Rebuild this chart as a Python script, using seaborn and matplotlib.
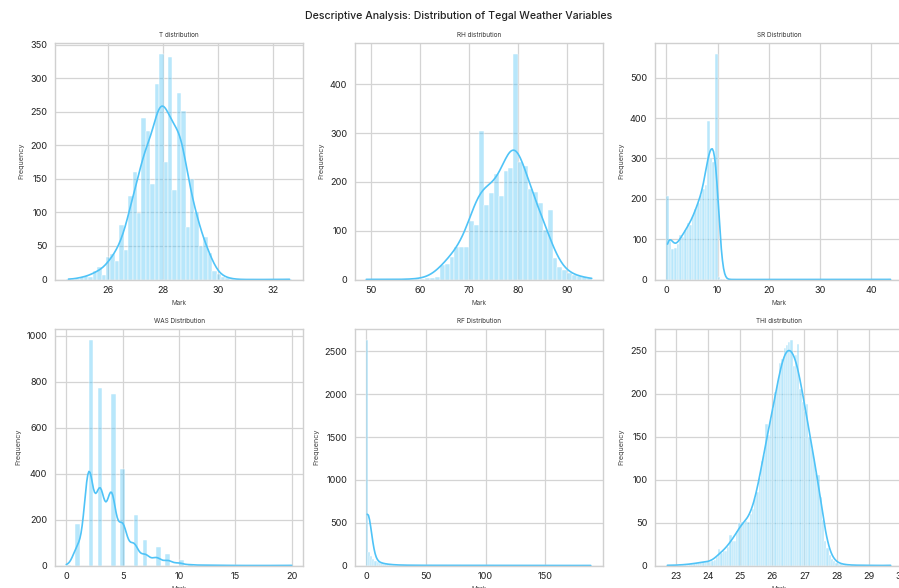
import numpy as np
import matplotlib
matplotlib.use("Agg")
import matplotlib.pyplot as plt
import seaborn as sns
from matplotlib.ticker import MultipleLocator

# ---------------- data ----------------
# T : bins of width 0.16 starting at 24.5
t_bin_start = 24.5
t_bin_width = 0.16
t_counts = [1, 0, 1, 4, 5, 4, 12, 18, 6,
            33, 38, 28, 81, 44, 125, 161, 99, 241, 222, 142, 292, 336, 175, 332,
            133, 278, 251, 78, 150, 100, 50, 63, 39, 12, 8, 4, 2, 1,
            0, 0, 0, 0, 0, 0, 0, 0, 0, 0, 0, 0, 1]

# RH : integer values 49..95, bins of width 1
rh_values = list(range(49, 96))
rh_counts = [1, 0, 0, 0, 0, 0, 0, 0, 1, 0, 1, 2, 3, 4, 5, 30, 32, 47, 66, 66, 67,
             121, 112, 305, 152, 178, 217, 171, 222, 228, 462, 240, 233, 185, 180,
             157, 102, 142, 45, 26, 20, 14, 10, 8, 5, 3, 1]

# SR : bins of width 0.5 starting at 0
sr_bin_start = 0.0
sr_bin_width = 0.5
sr_counts = ([207, 95, 75, 78, 88, 110, 105, 122, 140, 135, 158, 175, 190, 210,
              225, 235, 393, 300, 290, 558, 6, 2, 1] + [0] * 64 + [1])

# WAS : integer values 0..20, 50 bins over 0..20
was_values = list(range(0, 21))
was_counts = [3, 182, 981, 772, 747, 419, 219, 110, 80, 51, 25, 8, 4, 2, 1, 1, 0, 0, 0, 0, 1]
was_range = (0, 20)
was_nbins = 50

# RF : 110 bins over 0..189
rf_range = (0, 189)
rf_counts = ([2630, 160, 110, 75, 55, 42, 35, 28, 22, 18, 15, 12, 10, 9, 7, 6, 5, 5, 4, 4] +
             [3, 3, 3, 3, 2, 2, 2, 2, 2, 2, 2, 2, 1, 2, 1, 2, 1, 1, 2, 1] +
             [1, 1, 1, 0, 1, 1, 0, 1, 1, 0, 1, 0, 1, 1, 0, 1, 0, 0, 1, 0,
              1, 0, 0, 1, 0, 0, 1, 0, 0, 1] +
             [0, 0, 1, 0, 0, 0, 1, 0, 0, 0, 0, 1, 0, 0, 0, 0, 0, 1, 0, 0,
              0, 0, 0, 0, 1, 0, 0, 0, 0, 0, 0, 0, 0, 1, 0, 0, 0, 0, 0, 1])

# THI : bins of width 0.07 starting at 22.71
thi_bin_start = 22.71
thi_bin_width = 0.07
thi_counts = ([1, 0, 0, 0, 1, 0, 1, 1, 1, 1, 2, 2, 2, 3, 3, 4, 4, 4] +
              [5, 4, 5, 6, 10] +
              [19, 15, 17, 17, 22, 36, 28, 29, 40, 50, 51, 50, 52, 51, 60, 66, 79, 85,
               102, 121, 128, 165, 152, 170, 182, 202, 215, 235, 240, 253, 257, 260,
               262, 232, 245, 258, 205, 190, 180, 188, 150, 135, 124, 108, 105, 80,
               53, 28, 20, 12, 8, 5, 3] +
              [2, 2, 1, 1, 1, 0, 1, 0, 0, 1, 0, 0, 0, 0, 1, 0, 0, 0, 0, 0, 0, 0, 0, 1])

titles = ["T distribution", "RH distribution", "SR Distribution",
          "WAS Distribution", "RF Distribution", "THI distribution"]
suptitle = "Descriptive Analysis: Distribution of Tegal Weather Variables"


def from_bins(start, width, counts):
    counts = np.asarray(counts)
    edges = start + width * np.arange(len(counts) + 1)
    centers = (edges[:-1] + edges[1:]) / 2
    return np.repeat(centers, counts), edges


def from_range(rng, counts):
    counts = np.asarray(counts)
    edges = np.linspace(rng[0], rng[1], len(counts) + 1)
    centers = (edges[:-1] + edges[1:]) / 2
    return np.repeat(centers, counts), edges


t_data, t_edges = from_bins(t_bin_start, t_bin_width, t_counts)
rh_data = np.repeat(rh_values, rh_counts).astype(float)
rh_edges = np.arange(rh_values[0], rh_values[-1] + 1)
sr_data, sr_edges = from_bins(sr_bin_start, sr_bin_width, sr_counts)
was_data = np.repeat(was_values, was_counts).astype(float)
was_edges = np.linspace(was_range[0], was_range[1], was_nbins + 1)
rf_data, rf_edges = from_range(rf_range, rf_counts)
thi_data, thi_edges = from_bins(thi_bin_start, thi_bin_width, thi_counts)

# (data, bin edges, KDE bandwidth adjustment)
datasets = [(t_data, t_edges, 1.4), (rh_data, rh_edges, 1.9), (sr_data, sr_edges, 1.3),
            (was_data, was_edges, 1.08), (rf_data, rf_edges, 1.45), (thi_data, thi_edges, 1.2)]
xsteps = [2, 10, 10, 5, 50, 1]

# ---------------- style ----------------
sns.set_theme(style="whitegrid")
plt.rcParams['font.family'] = ['Inter', 'DejaVu Sans']
plt.rcParams['axes.edgecolor'] = '#d0d0d0'
plt.rcParams['grid.color'] = '#d4d4d4'
plt.rcParams['axes.linewidth'] = 1.0
plt.rcParams['grid.linewidth'] = 0.9

W, H = 899, 588
fig = plt.figure(figsize=(W / 100, H / 100), dpi=100)

lefts = [55, 355, 655]
tops = [43, 329]
aw, ah = 248, 236.5
color = '#4FC3F7'

for i, (data, edges, bwa) in enumerate(datasets):
    r, c = divmod(i, 3)
    l = lefts[c]
    t = tops[r]
    ax = fig.add_axes([l / W, 1 - (t + ah) / H, aw / W, ah / H])
    sns.histplot(x=data, bins=edges, kde=True, ax=ax, color=color, alpha=0.4,
                 edgecolor='white', linewidth=0.35,
                 kde_kws={'bw_adjust': bwa}, line_kws={'linewidth': 1.2})
    ax.set_title(titles[i], fontsize=4.6, pad=4, color='#333333')
    ax.set_xlabel('Mark', fontsize=4.6, labelpad=3, color='#444444')
    ax.set_ylabel('Frequency', fontsize=5.2, labelpad=4, color='#444444')
    ax.xaxis.set_major_locator(MultipleLocator(xsteps[i]))
    ax.tick_params(axis='both', labelsize=6.6, length=0, colors='#222222')
    ax.tick_params(axis='x', pad=5)
    ax.tick_params(axis='y', pad=5.5)
    for s in ax.spines.values():
        s.set_color('#d0d0d0')

fig.text(459 / W, 1 - 16 / H, suptitle, ha='center', va='center', fontsize=7.6,
         fontweight='medium', color='#222222')

fig.savefig('out.png', dpi=100)
